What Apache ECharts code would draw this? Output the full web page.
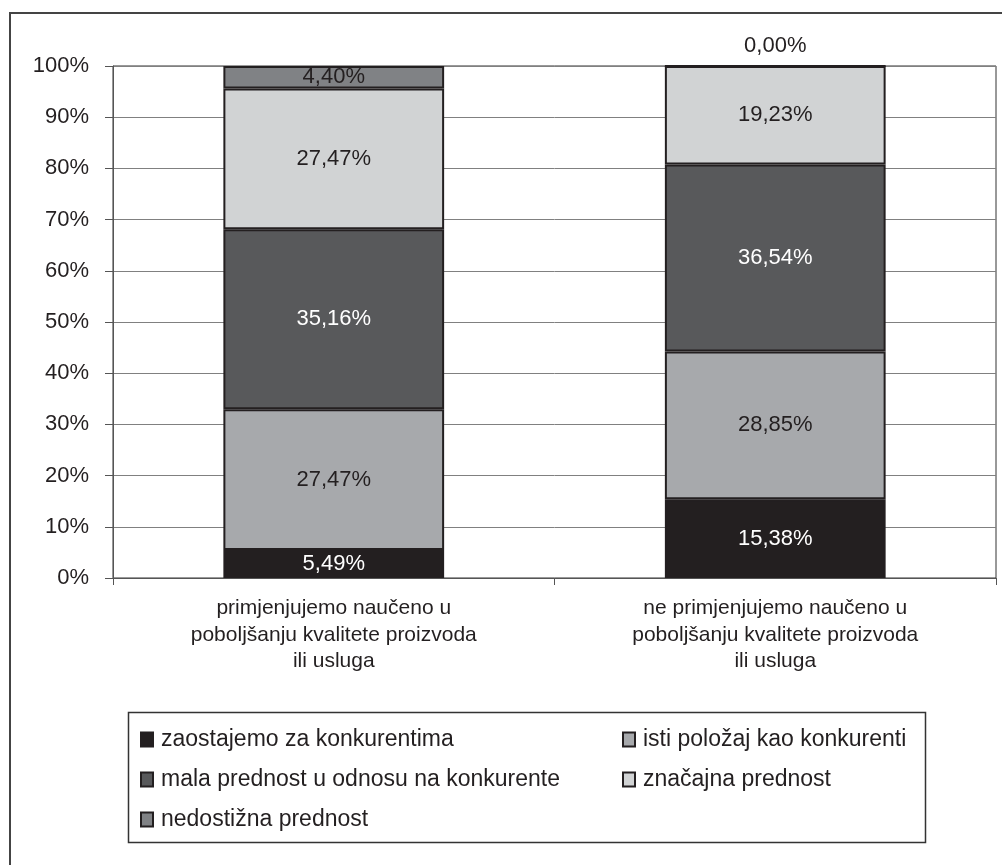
<!DOCTYPE html>
<html>
<head>
<meta charset="utf-8">
<script src="https://cdn.jsdelivr.net/npm/echarts@6/dist/echarts.min.js"></script>
<style>
html,body{margin:0;padding:0;background:#fff;}
#c{width:1002px;height:865px;}
</style>
</head>
<body>
<div id="c"></div>
<script>
const categories = [
  'primjenjujemo naučeno u\npoboljšanju kvalitete proizvoda\nili usluga',
  'ne primjenjujemo naučeno u\npoboljšanju kvalitete proizvoda\nili usluga'
];
const seriesNames = [
  'zaostajemo za konkurentima',
  'isti položaj kao konkurenti',
  'mala prednost u odnosu na konkurente',
  'značajna prednost',
  'nedostižna prednost'
];
const zaostajemo = [5.49, 15.38];
const isti = [27.47, 28.85];
const mala = [35.16, 36.54];
const znacajna = [27.47, 19.23];
const nedostizna = [4.40, 0.00];
const yTicks = [0, 10, 20, 30, 40, 50, 60, 70, 80, 90, 100];

const colors = ['#231f20', '#a7a9ac', '#58595b', '#d1d3d4', '#808285'];
const labelColors = ['#ffffff', '#231f20', '#ffffff', '#231f20', '#231f20'];
const values = [zaostajemo, isti, mala, znacajna, nedostizna];
const FONT = 'Liberation Sans, Arial, sans-serif';

const fmt = v => v.toFixed(2).replace('.', ',') + '%';

const series = seriesNames.map((name, i) => ({
  name: name,
  type: 'bar',
  stack: 'total',
  barWidth: '50%',
  itemStyle: { color: colors[i], borderColor: '#231f20', borderWidth: 2 },
  label: {
    show: true,
    position: 'inside',
    fontFamily: FONT,
    fontSize: 22,
    color: labelColors[i],
    formatter: p => fmt(p.value)
  },
  data: values[i].map(v => v === 0 ? { value: v, label: { position: 'top', distance: 8, color: '#231f20' } } : v)
}));

const legendText = { fontFamily: FONT, fontSize: 23, lineHeight: 22, color: '#231f20', padding: [0, 0, 0, 3] };

const chart = echarts.init(document.getElementById('c'));
chart.setOption({
  animation: false,
  backgroundColor: '#ffffff',
  textStyle: { fontFamily: FONT },
  grid: {
    left: 113, right: 6, top: 66, bottom: 287,
    show: true, borderColor: '#333333', borderWidth: 1, backgroundColor: 'transparent'
  },
  xAxis: {
    type: 'category',
    data: categories,
    axisLine: { lineStyle: { color: '#555555', width: 1 } },
    axisTick: { show: true, length: 7, lineStyle: { color: '#555555' } },
    axisLabel: {
      fontFamily: FONT, fontSize: 21, color: '#231f20',
      lineHeight: 26.5, margin: 17, interval: 0
    }
  },
  yAxis: {
    type: 'value',
    min: 0, max: 100, interval: 10,
    axisLine: { show: true, lineStyle: { color: '#555555', width: 1 } },
    axisTick: { show: true, length: 8, lineStyle: { color: '#555555' } },
    splitLine: { show: true, lineStyle: { color: '#808080', width: 1 } },
    axisLabel: {
      fontFamily: FONT, fontSize: 22, color: '#231f20', margin: 24,
      formatter: v => (yTicks.indexOf(v) >= 0 ? v + '%' : '')
    }
  },
  legend: [
    {
      orient: 'vertical',
      left: 135, top: 723,
      itemGap: 17,
      itemWidth: 12, itemHeight: 14,
      icon: 'rect',
      data: [seriesNames[0], seriesNames[2], seriesNames[4]],
      textStyle: legendText,
      selectedMode: false
    },
    {
      orient: 'vertical',
      left: 617, top: 723,
      itemGap: 17,
      itemWidth: 12, itemHeight: 14,
      icon: 'rect',
      data: [seriesNames[1], seriesNames[3]],
      textStyle: legendText,
      selectedMode: false
    }
  ],
  graphic: [
    {
      type: 'rect', silent: true, z: -1,
      shape: { x: 10, y: 13, width: 1010, height: 880 },
      style: { fill: 'none', stroke: '#444444', lineWidth: 2 }
    },
    {
      type: 'rect', silent: true,
      shape: { x: 128.5, y: 712.5, width: 797, height: 130 },
      style: { fill: 'none', stroke: '#333333', lineWidth: 1.5 }
    }
  ],
  series: series
});
</script>
</body>
</html>
